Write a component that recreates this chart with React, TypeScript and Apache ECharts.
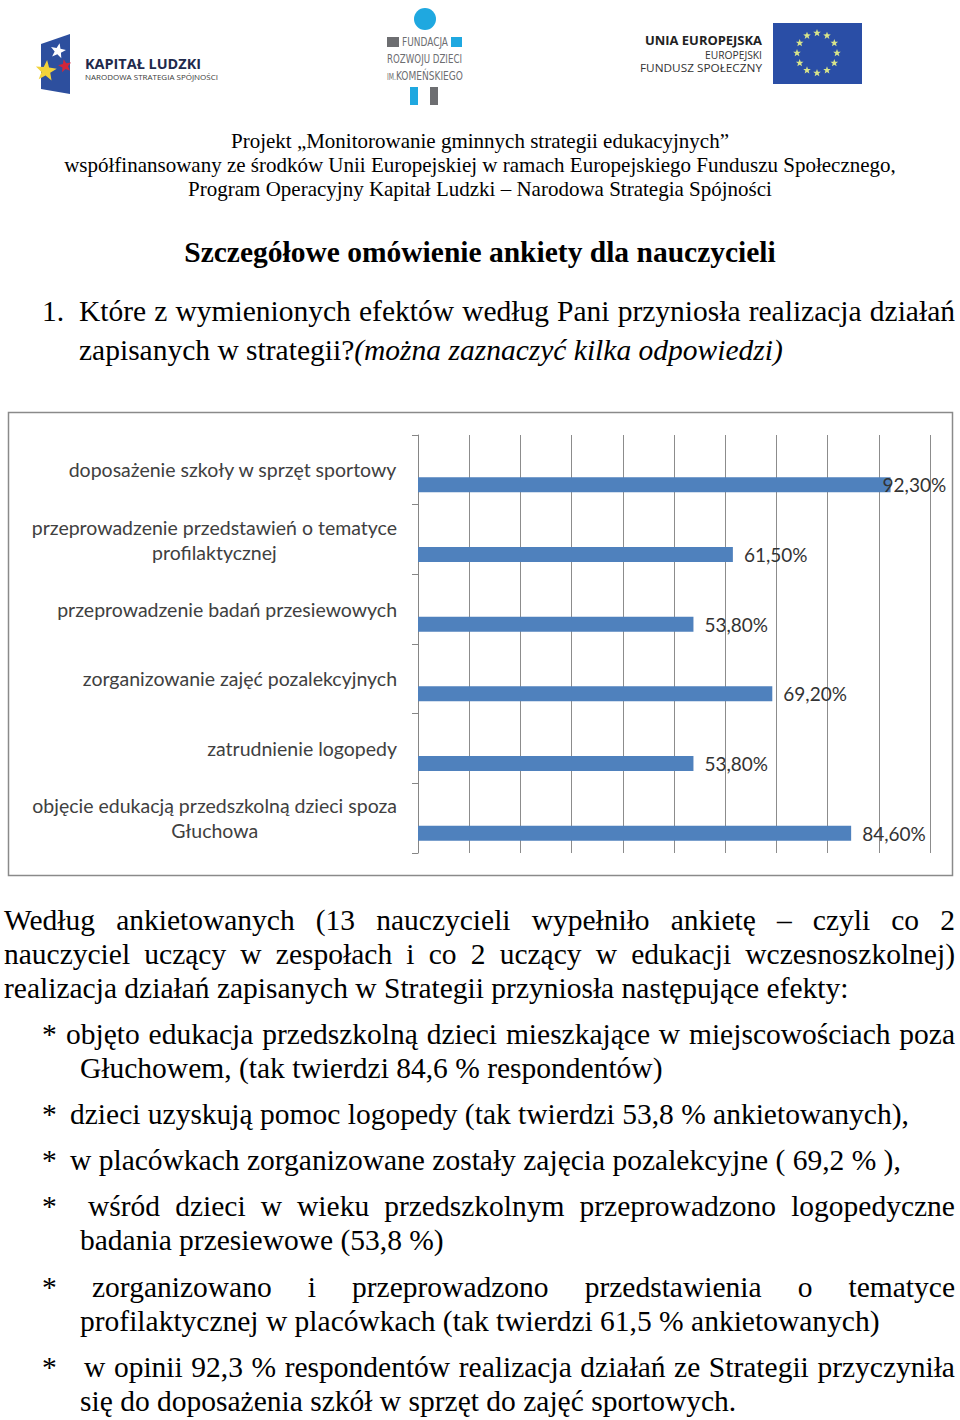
import React, { useEffect, useRef } from "react";
import * as echarts from "echarts";

const categories = [
  "doposażenie szkoły w sprzęt sportowy",
  "przeprowadzenie przedstawień o tematyce\nprofilaktycznej",
  "przeprowadzenie badań przesiewowych",
  "zorganizowanie zajęć pozalekcyjnych",
  "zatrudnienie logopedy",
  "objęcie edukacją przedszkolną dzieci spoza\nGłuchowa",
];
const values = [92.3, 61.5, 53.8, 69.2, 53.8, 84.6];
const xTicks = [0, 10, 20, 30, 40, 50, 60, 70, 80, 90, 100];

const headerLines = [
  "Projekt „Monitorowanie gminnych strategii edukacyjnych”",
  "współfinansowany ze środków Unii Europejskiej w ramach Europejskiego Funduszu Społecznego,",
  "Program Operacyjny Kapitał Ludzki – Narodowa Strategia Spójności",
];

function starPoints(cx: number, cy: number, r: number, rot = 0) {
  const pts: string[] = [];
  for (let i = 0; i < 10; i++) {
    const rr = i % 2 === 0 ? r : r * 0.42;
    const a = -Math.PI / 2 + rot + (i * Math.PI) / 5;
    pts.push(`${(cx + rr * Math.cos(a)).toFixed(2)},${(cy + rr * Math.sin(a)).toFixed(2)}`);
  }
  return pts.join(" ");
}

function Logos() {
  const euStars = [];
  for (let i = 0; i < 12; i++) {
    const a = (i * Math.PI) / 6;
    euStars.push(
      <polygon
        key={i}
        points={starPoints(817 + 20 * Math.cos(a), 53 + 20 * Math.sin(a), 4)}
        fill="#d8e48a"
      />
    );
  }
  return (
    <svg width={960} height={110} style={{ position: "absolute", left: 0, top: 0 }}>
      {/* Kapitał Ludzki */}
      <polygon points="41,44 70,34 70,94 41,89" fill="#2d4f9e" />
      <polygon points={starPoints(58, 51, 8, 0.2)} fill="#ffffff" />
      <polygon points={starPoints(65, 66, 7, -0.2)} fill="#d0263a" />
      <polygon points={starPoints(46, 71, 11, 0.1)} fill="#f2d33b" />
      <text x={85} y={69} fontFamily="Open Sans" fontWeight="bold" fontSize={15} fill="#1f2a4c"
        textLength={116} lengthAdjust="spacingAndGlyphs">KAPITAŁ LUDZKI</text>
      <text x={85} y={80} fontFamily="Open Sans" fontSize={8} fill="#3a3a3a"
        textLength={133} lengthAdjust="spacingAndGlyphs">NARODOWA STRATEGIA SPÓJNOŚCI</text>

      {/* Fundacja */}
      <circle cx={425} cy={19} r={11} fill="#1fa8e0" />
      <rect x={387} y={37} width={12} height={10} fill="#6d6e71" />
      <rect x={451} y={37} width={11} height={10} fill="#1fa8e0" />
      <text x={402} y={46} fontFamily="DejaVu Sans Condensed" fontSize={12} fill="#6d6e71"
        textLength={46} lengthAdjust="spacingAndGlyphs">FUNDACJA</text>
      <text x={387} y={63} fontFamily="DejaVu Sans Condensed" fontSize={12} fill="#6d6e71"
        textLength={75} lengthAdjust="spacingAndGlyphs">ROZWOJU DZIECI</text>
      <text x={387} y={80} fontFamily="DejaVu Sans Condensed" fontSize={12} fill="#6d6e71"
        textLength={76} lengthAdjust="spacingAndGlyphs">
        <tspan fontSize={8}>IM.</tspan>KOMEŃSKIEGO
      </text>
      <rect x={410} y={87} width={8} height={18} fill="#1fa8e0" />
      <rect x={430} y={87} width={8} height={18} fill="#6d6e71" />

      {/* Unia Europejska */}
      <text x={762} y={45} textAnchor="end" fontFamily="Open Sans" fontWeight="bold" fontSize={12}
        fill="#222" textLength={117} lengthAdjust="spacingAndGlyphs">UNIA EUROPEJSKA</text>
      <text x={762} y={59} textAnchor="end" fontFamily="Open Sans" fontSize={11.5} fill="#333"
        textLength={57} lengthAdjust="spacingAndGlyphs">EUROPEJSKI</text>
      <text x={762} y={72} textAnchor="end" fontFamily="Open Sans" fontSize={11.5} fill="#333"
        textLength={122} lengthAdjust="spacingAndGlyphs">FUNDUSZ SPOŁECZNY</text>
      <rect x={773} y={23} width={89} height={61} fill="#2a4ea6" />
      {euStars}
    </svg>
  );
}

const serif = "'Liberation Serif', 'Times New Roman', serif";
const BODY = 29.5;

function Line(props: {
  x: number;
  y: number;
  w?: number;
  size?: number;
  lh?: number;
  bold?: boolean;
  center?: boolean;
  children: React.ReactNode;
}) {
  const size = props.size ?? BODY;
  const lh = props.lh ?? 34;
  const style: React.CSSProperties = {
    position: "absolute",
    left: props.x,
    top: props.y - lh / 2,
    width: props.w,
    fontFamily: serif,
    fontSize: size,
    lineHeight: lh + "px",
    color: "#000",
    fontWeight: props.bold ? "bold" : "normal",
    whiteSpace: "nowrap",
    textAlign: props.center ? "center" : "left",
  };
  return <div style={style}>{props.children}</div>;
}

function JLine(props: { x: number; y: number; w: number; text: string }) {
  const lh = 34;
  const words = props.text.split(" ");
  return (
    <div
      style={{
        position: "absolute",
        left: props.x,
        top: props.y - lh / 2,
        width: props.w,
        display: "flex",
        flexWrap: "nowrap",
        justifyContent: "space-between",
        fontFamily: serif,
        fontSize: BODY,
        lineHeight: lh + "px",
        color: "#000",
        whiteSpace: "nowrap",
      }}
    >
      {words.map((w, i) => (
        <span key={i}>{w}</span>
      ))}
    </div>
  );
}

function Chart() {
  const ref = useRef<HTMLDivElement>(null);
  useEffect(() => {
    if (!ref.current) return;
    const chart = echarts.init(ref.current, null, { renderer: "svg" });
    chart.setOption({
      animation: false,
      graphic: [
        {
          type: "rect",
          shape: { x: 8.5, y: 12.5, width: 944, height: 463 },
          style: { fill: "none", stroke: "#8a8a8a", lineWidth: 1.5 },
          silent: true,
        },
      ],
      grid: { left: 418, right: 30, top: 35, bottom: 47, containLabel: false },
      xAxis: {
        type: "value",
        min: xTicks[0],
        max: xTicks[xTicks.length - 1],
        interval: xTicks[1] - xTicks[0],
        axisLabel: { show: false },
        axisLine: { show: false },
        axisTick: { show: false },
        splitLine: { show: true, lineStyle: { color: "#8c8c8c", width: 1 } },
      },
      yAxis: {
        type: "category",
        inverse: true,
        data: categories,
        axisLine: { show: true, lineStyle: { color: "#868686", width: 1 } },
        axisTick: { show: true, length: 6, lineStyle: { color: "#868686" } },
        axisLabel: {
          margin: 21,
          formatter: (v: string) =>
            v
              .split("\n")
              .map((s) => `{c|${s}}`)
              .join("\n"),
          rich: {
            c: {
              align: "center",
              fontFamily: "Lato",
              fontSize: 19.5,
              color: "#404040",
              lineHeight: 25,
            },
          },
        },
      },
      series: [
        {
          type: "bar",
          name: "spacer",
          data: values.map(() => null),
          barWidth: 15,
          barGap: "100%",
          silent: true,
        },
        {
          type: "bar",
          name: "odpowiedzi",
          data: values.map((v) => (v > 88 ? { value: v, label: { distance: -8 } } : v)),
          barWidth: 15,
          barGap: "100%",
          itemStyle: { color: "#4f81bd" },
          label: {
            show: true,
            position: "right",
            distance: 11,
            fontFamily: "Lato",
            fontSize: 19,
            color: "#333",
            formatter: (p: any) => Number(p.value).toFixed(2).replace(".", ",") + "%",
          },
        },
      ],
    });
    return () => chart.dispose();
  }, []);
  return (
    <div
      ref={ref}
      style={{ position: "absolute", left: 0, top: 400, width: 960, height: 500 }}
    />
  );
}

export default function App() {
  return (
    <div
      style={{
        position: "absolute",
        left: 0,
        top: 0,
        width: 960,
        height: 1420,
        background: "#fff",
        overflow: "hidden",
      }}
    >
      <Logos />
      {headerLines.map((t, i) => (
        <Line key={i} x={0} w={960} y={141 + i * 24} size={21} lh={24} center>
          {t}
        </Line>
      ))}
      <Line x={0} w={960} y={252} size={29.5} bold center>
        Szczegółowe omówienie ankiety dla nauczycieli
      </Line>
      <Line x={42} y={311}>1.</Line>
      <JLine x={79} w={876} y={311}
        text="Które z wymienionych efektów według Pani przyniosła realizacja działań" />
      <Line x={79} y={350}>
        zapisanych w strategii?<i>(można zaznaczyć kilka odpowiedzi)</i>
      </Line>

      <Chart />

      <JLine x={4} w={951} y={920}
        text="Według ankietowanych (13 nauczycieli wypełniło ankietę – czyli co 2" />
      <JLine x={4} w={951} y={954}
        text="nauczyciel uczący w zespołach i co 2 uczący w edukacji wczesnoszkolnej)" />
      <Line x={4} y={988}>
        realizacja działań zapisanych w Strategii przyniosła następujące efekty:
      </Line>

      <Line x={42} y={1034}>*</Line>
      <JLine x={66} w={889} y={1034}
        text="objęto edukacja przedszkolną dzieci mieszkające w miejscowościach poza" />
      <Line x={80} y={1068}>Głuchowem, (tak twierdzi 84,6 % respondentów)</Line>

      <Line x={42} y={1114}>*</Line>
      <Line x={70} y={1114}>
        dzieci uzyskują pomoc logopedy (tak twierdzi 53,8 % ankietowanych),
      </Line>

      <Line x={42} y={1160}>*</Line>
      <Line x={70} y={1160}>
        w placówkach zorganizowane zostały zajęcia pozalekcyjne ( 69,2 % ),
      </Line>

      <Line x={42} y={1206}>*</Line>
      <JLine x={88} w={867} y={1206}
        text="wśród dzieci w wieku przedszkolnym przeprowadzono logopedyczne" />
      <Line x={80} y={1240}>badania przesiewowe (53,8 %)</Line>

      <Line x={42} y={1287}>*</Line>
      <JLine x={92} w={863} y={1287}
        text="zorganizowano i przeprowadzono przedstawienia o tematyce" />
      <Line x={80} y={1321}>
        profilaktycznej w placówkach (tak twierdzi 61,5 % ankietowanych)
      </Line>

      <Line x={42} y={1367}>*</Line>
      <JLine x={84} w={871} y={1367}
        text="w opinii 92,3 % respondentów realizacja działań ze Strategii przyczyniła" />
      <Line x={80} y={1401}>się do doposażenia szkół w sprzęt do zajęć sportowych.</Line>
    </div>
  );
}
